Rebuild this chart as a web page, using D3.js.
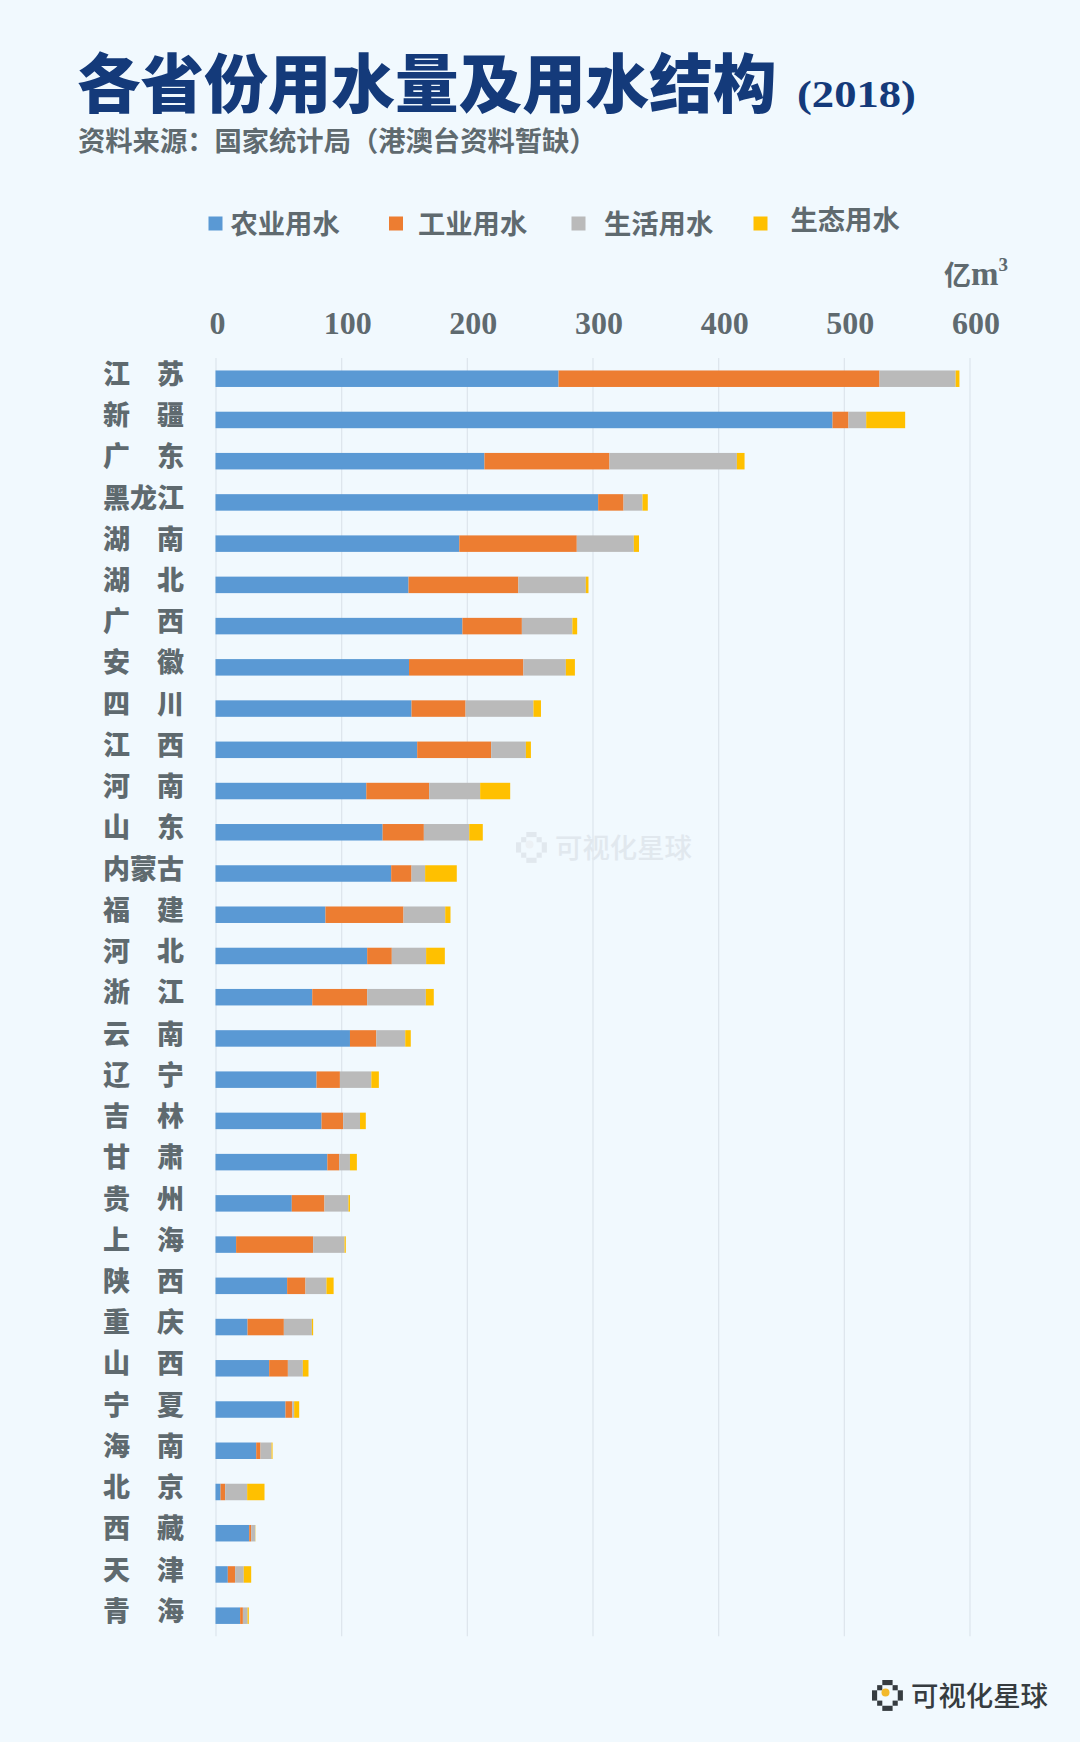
<!DOCTYPE html>
<html lang="zh-CN">
<head>
<meta charset="utf-8">
<script src="https://cdn.jsdelivr.net/npm/d3@7/dist/d3.min.js"></script>
<style>
html,body{margin:0;padding:0;background:#f1f9fe;}
svg{display:block;}
text{font-family:"Noto Sans CJK SC","Noto Sans",sans-serif;}
</style>
</head>
<body>
<svg id="chart" width="1080" height="1742"></svg>
<script>
const categories = ["江　苏","新　疆","广　东","黑龙江","湖　南","湖　北","广　西","安　徽","四　川","江　西","河　南","山　东","内蒙古","福　建","河　北","浙　江","云　南","辽　宁","吉　林","甘　肃","贵　州","上　海","陕　西","重　庆","山　西","宁　夏","海　南","北　京","西　藏","天　津","青　海"];
const seriesNames = ["农业用水","工业用水","生活用水","生态用水"];
const agriculture = [273,491,214,304.5,194,153.6,196.5,154,156,160.5,120,133,139.8,87.5,120.7,77,107,80.4,84.4,89,60.7,16.4,57,25.5,42.7,55.7,32.4,4,26.8,9.8,19.6];
const industry = [255.4,12.7,99.5,20.2,93.5,87.4,47.3,91,43,58.9,50,32.8,16.2,62.1,19.6,43.7,21,18.6,17.2,9.4,26,61.3,14.6,28.9,14.9,5.3,3.4,3.7,1.6,5.8,2.2];
const domestic = [60.6,14.1,101.4,15.1,45.4,53.7,40.2,33.8,54,27.6,40.6,36.1,10.8,33.2,27.3,46.7,23,25,13.4,8.6,19.1,25,16.7,22.3,11.9,1.6,8.8,17.5,3.2,6.9,3.7];
const ecological = [3,31,6.1,4.2,4.1,2.1,3.8,7.2,6,4,23.9,10.8,25.2,4.2,14.9,6.3,4.4,6,4.6,5.5,1.2,1,5.7,1,4.5,4,0.8,13.8,0.2,5.9,1];
const tickValues = [0,100,200,300,400,500,600];

const seriesValues = [agriculture,industry,domestic,ecological];
const colors = ["#5a99d4","#ed7d31","#bababa","#ffc000"];
const textGrey = "#5f6a6f";
const serif = '"Liberation Serif","DejaVu Serif",serif';

const svg = d3.select("#chart");
const x = d3.scaleLinear().domain([0,600]).range([215.5,969.5]);
const y = d3.scaleBand().domain(categories).range([358.1,1636.3]).paddingInner(0.6).paddingOuter(0.3);

// gridlines
const gridAxis = d3.axisTop(x).tickValues(tickValues).tickSize(-(y.range()[1]-y.range()[0])).tickFormat("");
const grid = svg.append("g").attr("transform",`translate(0,${y.range()[0]})`).call(gridAxis);
grid.select(".domain").remove();
grid.selectAll("line").attr("stroke","#dde5ec").attr("stroke-width",1.2);

// stacked bars
const rows = categories.map((c,i)=>{
  const r = {category:c};
  seriesNames.forEach((s,k)=>{r[s]=seriesValues[k][i];});
  return r;
});
const stacked = d3.stack().keys(seriesNames)(rows);
svg.append("g").selectAll("g").data(stacked).join("g")
  .attr("fill",(d,i)=>colors[i])
  .selectAll("rect").data(d=>d).join("rect")
  .attr("x",d=>x(d[0]))
  .attr("y",d=>y(d.data.category))
  .attr("width",d=>x(d[1])-x(d[0]))
  .attr("height",y.bandwidth());

// top axis labels
const topAxis = d3.axisTop(x).tickValues(tickValues).tickSize(0).tickPadding(0);
const topG = svg.append("g").attr("transform","translate(0,334)").call(topAxis);
topG.select(".domain").remove();
topG.selectAll("text")
  .attr("dx",d=>d===0?1.5:6)
  .attr("fill",textGrey)
  .style("font-family",serif)
  .style("font-size","32px")
  .style("font-weight","700");

// category labels
const leftAxis = d3.axisLeft(y).tickSize(0).tickPadding(0);
const leftG = svg.append("g").attr("transform","translate(184,-3.5)").call(leftAxis);
leftG.select(".domain").remove();
leftG.selectAll("text")
  .attr("fill",textGrey)
  .style("font-size","27px")
  .style("font-weight","800");

// title
svg.append("text").attr("x",77).attr("y",107).attr("fill","#143a7a")
  .style("font-size","63.6px").style("font-weight","900").text("各省份用水量及用水结构");
svg.append("text").attr("x",797).attr("y",107).attr("fill","#143a7a")
  .attr("textLength",119).attr("lengthAdjust","spacingAndGlyphs")
  .style("font-family",serif).style("font-size","37px").style("font-weight","700").text("(2018)");
svg.append("text").attr("x",78).attr("y",151).attr("fill",textGrey)
  .style("font-size","27.3px").style("font-weight","700").text("资料来源：国家统计局（港澳台资料暂缺）");

// legend
const legendSquareX = [208.5,389,571.5,753.5];
const legendTextX = [230.5,418,604,790.5];
const legendTextY = [234,234,234,229.5];
const legend = svg.append("g");
seriesNames.forEach((s,i)=>{
  legend.append("rect").attr("x",legendSquareX[i]).attr("y",216.5).attr("width",14).attr("height",14).attr("fill",colors[i]);
  legend.append("text").attr("x",legendTextX[i]).attr("y",legendTextY[i]).attr("fill",textGrey)
    .style("font-size","27.3px").style("font-weight","700").text(s);
});

// unit
const unit = svg.append("text").attr("x",944).attr("y",285).attr("fill",textGrey).style("font-weight","700");
unit.append("tspan").style("font-size","27px").text("亿");
unit.append("tspan").style("font-family",serif).style("font-size","33px").text("m");
unit.append("tspan").attr("dy",-14).style("font-family",serif).style("font-size","19px").text("3");

// brand marks
const cells = [[2,0,2,1],[1,1,1,1],[4,1,1,1],[0,2,1,2],[5,2,1,2],[1,4,1,1],[4,4,1,1],[2,5,2,1]];
function brand(ix,iy,tx,ty,dark,dot){
  const g = svg.append("g");
  const u = 5.15;
  g.selectAll("rect").data(cells).join("rect")
    .attr("x",d=>ix+d[0]*u).attr("y",d=>iy+d[1]*u)
    .attr("width",d=>d[2]*u).attr("height",d=>d[3]*u).attr("fill",dark);
  g.append("circle").attr("cx",ix+13.5).attr("cy",iy+12.5).attr("r",4).attr("fill",dot);
  g.append("text").attr("x",tx).attr("y",ty).attr("fill",dark)
    .style("font-size","27.4px").style("font-weight","500").text("可视化星球");
}
brand(516,832,555,858,"#e1e8ee","#ecf1f5");
brand(872,1680,911,1706,"#363c40","#f2b92b");
</script>
</body>
</html>
